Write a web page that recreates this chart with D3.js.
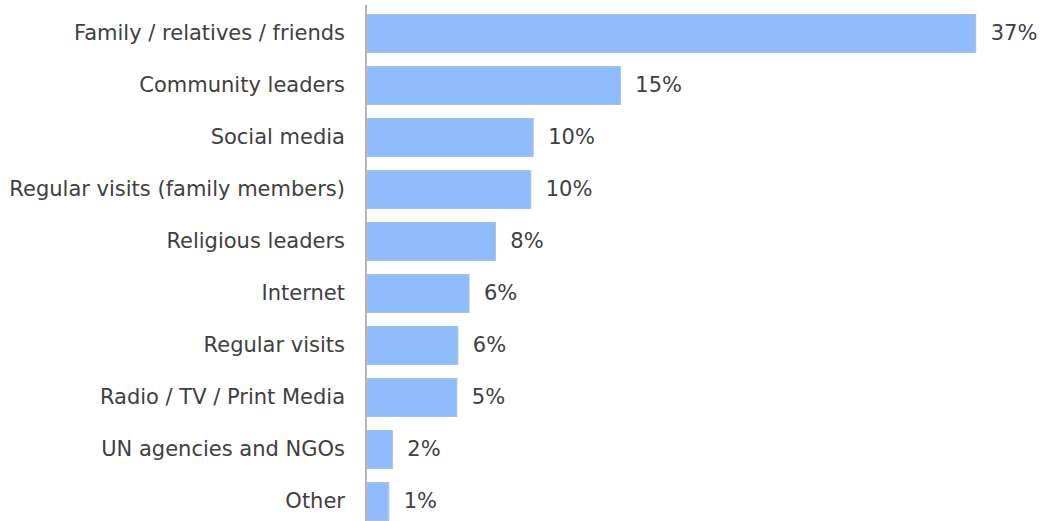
<!DOCTYPE html>
<html>
<head>
<meta charset="utf-8">
<script src="https://cdn.jsdelivr.net/npm/d3@7"></script>
<style>
  html, body { margin: 0; padding: 0; background: #fff; }
  svg { display: block; }
  text { font-family: "DejaVu Sans", sans-serif; fill: #404040; }
</style>
</head>
<body>
<svg id="chart" width="1044" height="521"></svg>
<script>
// Sources of information, share of respondents (%)
const categories = [
  "Family / relatives / friends",
  "Community leaders",
  "Social media",
  "Regular visits (family members)",
  "Religious leaders",
  "Internet",
  "Regular visits",
  "Radio / TV / Print Media",
  "UN agencies and NGOs",
  "Other"
];
const shares = [37, 15.4, 10.1, 9.95, 7.8, 6.2, 5.52, 5.46, 1.54, 1.32];

const width = 1044, height = 521;
const margin = { top: 7, right: 69, bottom: 0, left: 367 };

const svg = d3.select("#chart");

const x = d3.scaleLinear()
  .domain([0, 37])
  .range([margin.left, 975.7]);

const y = d3.scaleBand()
  .domain(categories)
  .range([margin.top, margin.top + 52 * categories.length])
  .paddingInner(0.27)
  .paddingOuter(0.135);

const fmt = v => d3.format(".0f")(v) + "%";

// Bars
svg.append("g")
  .selectAll("rect")
  .data(categories)
  .join("rect")
  .attr("x", x(0) + 0.5)
  .attr("y", d => y(d) + 0.5)
  .attr("width", (d, i) => x(shares[i]) - x(0) - 0.5)
  .attr("height", y.bandwidth())
  .attr("fill", "#8fbcff")
  .attr("stroke", "#a9bfdc")
  .attr("stroke-width", 1);

// Category axis
const yAxis = svg.append("g")
  .attr("transform", `translate(${margin.left - 1},0)`)
  .call(d3.axisLeft(y).tickSize(0).tickPadding(21));
yAxis.select(".domain")
  .attr("d", `M0,5V${height}`)
  .attr("stroke", "#b4b4b4")
  .attr("stroke-width", 2);
yAxis.selectAll("text")
  .attr("font-size", "21px")
  .attr("fill", "#404040")
  .style("font-family", "'DejaVu Sans', sans-serif");

// Value labels
svg.append("g")
  .selectAll("text")
  .data(categories)
  .join("text")
  .attr("x", (d, i) => x(shares[i]) + 15)
  .attr("y", d => y(d) + y.bandwidth() / 2)
  .attr("dy", "0.35em")
  .attr("font-size", "21px")
  .text((d, i) => fmt(shares[i]));
</script>
</body>
</html>
